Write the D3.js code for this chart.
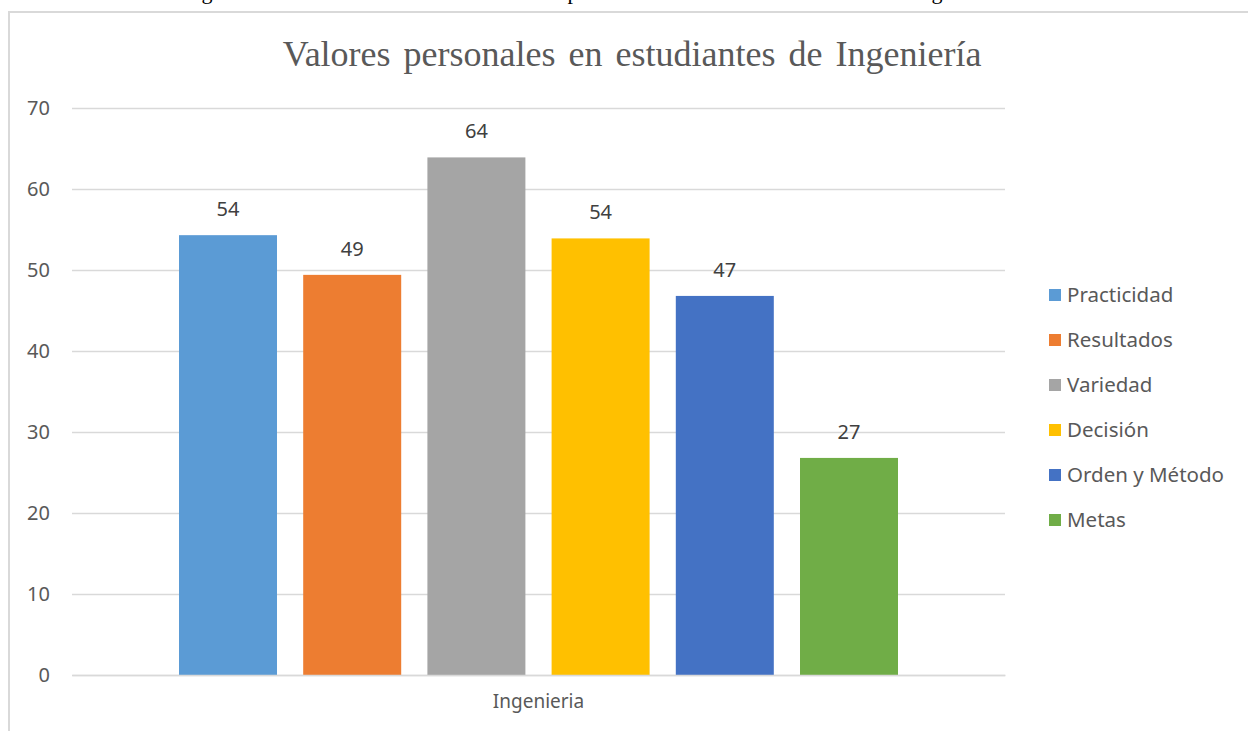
<!DOCTYPE html>
<html>
<head>
<meta charset="utf-8">
<script src="https://cdn.jsdelivr.net/npm/d3@7"></script>
<style>
  body { margin: 0; background: #fff; }
  svg { display: block; }
</style>
</head>
<body>
<script>
const categories = ["Ingenieria"];
const seriesNames = ["Practicidad", "Resultados", "Variedad", "Decisión", "Orden y Método", "Metas"];
const seriesValues = [54.3, 49.4, 63.9, 53.9, 46.8, 26.8];
const yTicks = [0, 10, 20, 30, 40, 50, 60, 70];
const colors = ["#5b9bd5", "#ed7d31", "#a5a5a5", "#ffc000", "#4472c4", "#70ad47"];

const W = 1248, H = 731;
const plot = { left: 72, right: 1005, top: 108, bottom: 675 };

const svg = d3.select("body").append("svg")
  .attr("width", W)
  .attr("height", H);

// cut-off caption line above the chart frame (only descenders show)
[["g", 207], ["p", 573], ["g", 937]].forEach(d => {
  svg.append("text")
    .attr("x", d[1]).attr("y", -1)
    .attr("text-anchor", "middle")
    .style("font-family", "Liberation Serif, serif")
    .style("font-size", "22px")
    .attr("fill", "#000")
    .text(d[0]);
});

// chart frame (runs off the bottom/right)
svg.append("rect")
  .attr("x", 9).attr("y", 12)
  .attr("width", W + 20).attr("height", H + 20)
  .attr("fill", "none")
  .attr("stroke", "#d9d9d9")
  .attr("stroke-width", 2);

svg.append("text")
  .attr("x", 632).attr("y", 66)
  .attr("text-anchor", "middle")
  .style("font-family", "Liberation Serif, Times New Roman, serif")
  .style("font-size", "36px")
  .style("word-spacing", "4px")
  .attr("fill", "#595959")
  .text("Valores personales en estudiantes de Ingeniería");

let y = d3.scaleLinear()
  .domain([0, 70])
  .range([plot.bottom, plot.top]);

let x0 = d3.scaleBand()
  .domain(categories)
  .range([plot.left, plot.right])
  .paddingInner(0)
  .paddingOuter(0.126);

let x1 = d3.scaleBand()
  .domain(seriesNames)
  .range([0, x0.bandwidth()])
  .paddingInner(0.211)
  .paddingOuter(0.1055);

const fontSans = "Noto Sans, Open Sans, sans-serif";

// gridlines
svg.append("g")
  .attr("class", "grid")
  .attr("transform", "translate(" + plot.left + ",0)")
  .call(d3.axisLeft(y)
    .tickValues(yTicks)
    .tickSize(-(plot.right - plot.left))
    .tickFormat("")
  )
  .call(g => g.select(".domain").remove())
  .call(g => g.selectAll("line").attr("stroke", "#d9d9d9").attr("stroke-width", 1.3));

// y axis labels
svg.append("g")
  .attr("transform", "translate(" + plot.left + ",0)")
  .call(d3.axisLeft(y).tickValues(yTicks).tickSize(0).tickPadding(22))
  .call(g => g.select(".domain").remove())
  .call(g => g.selectAll("text")
    .style("font-family", fontSans)
    .style("font-size", "20px")
    .attr("fill", "#595959"));

// bars
let group = svg.selectAll(".cat")
  .data(categories)
  .enter()
  .append("g")
  .attr("class", "cat")
  .attr("transform", d => "translate(" + x0(d) + ",0)");

let rows = seriesNames.map((name, i) => ({ name: name, value: seriesValues[i], color: colors[i] }));

group.selectAll(".bar")
  .data(rows)
  .enter()
  .append("rect")
  .attr("class", "bar")
  .attr("x", d => x1(d.name))
  .attr("y", d => y(d.value))
  .attr("width", x1.bandwidth())
  .attr("height", d => y(0) - y(d.value))
  .attr("fill", d => d.color);

group.selectAll(".label")
  .data(rows)
  .enter()
  .append("text")
  .attr("class", "label")
  .attr("x", d => x1(d.name) + x1.bandwidth() / 2)
  .attr("y", d => y(d.value) - 19)
  .attr("text-anchor", "middle")
  .style("font-family", fontSans)
  .style("font-size", "20px")
  .attr("fill", "#404040")
  .text(d => Math.round(d.value));

// x axis baseline + category label
svg.append("g")
  .attr("transform", "translate(0," + plot.bottom + ")")
  .call(d3.axisBottom(x0).tickSize(0).tickPadding(20))
  .call(g => g.select(".domain").attr("stroke", "#d9d9d9").attr("stroke-width", 1.3))
  .call(g => g.selectAll("text")
    .style("font-family", fontSans)
    .style("font-size", "19px")
    .attr("fill", "#595959"));

// legend
let legend = svg.selectAll(".legend")
  .data(rows)
  .enter()
  .append("g")
  .attr("class", "legend")
  .attr("transform", (d, i) => "translate(1049," + (295 + i * 45) + ")");

legend.append("rect")
  .attr("x", 0).attr("y", -6)
  .attr("width", 12).attr("height", 12)
  .attr("fill", d => d.color);

legend.append("text")
  .attr("x", 18)
  .attr("y", 0)
  .attr("dy", "0.35em")
  .style("font-family", fontSans)
  .style("font-size", "20.5px")
  .attr("fill", "#595959")
  .text(d => d.name);
</script>
</body>
</html>
